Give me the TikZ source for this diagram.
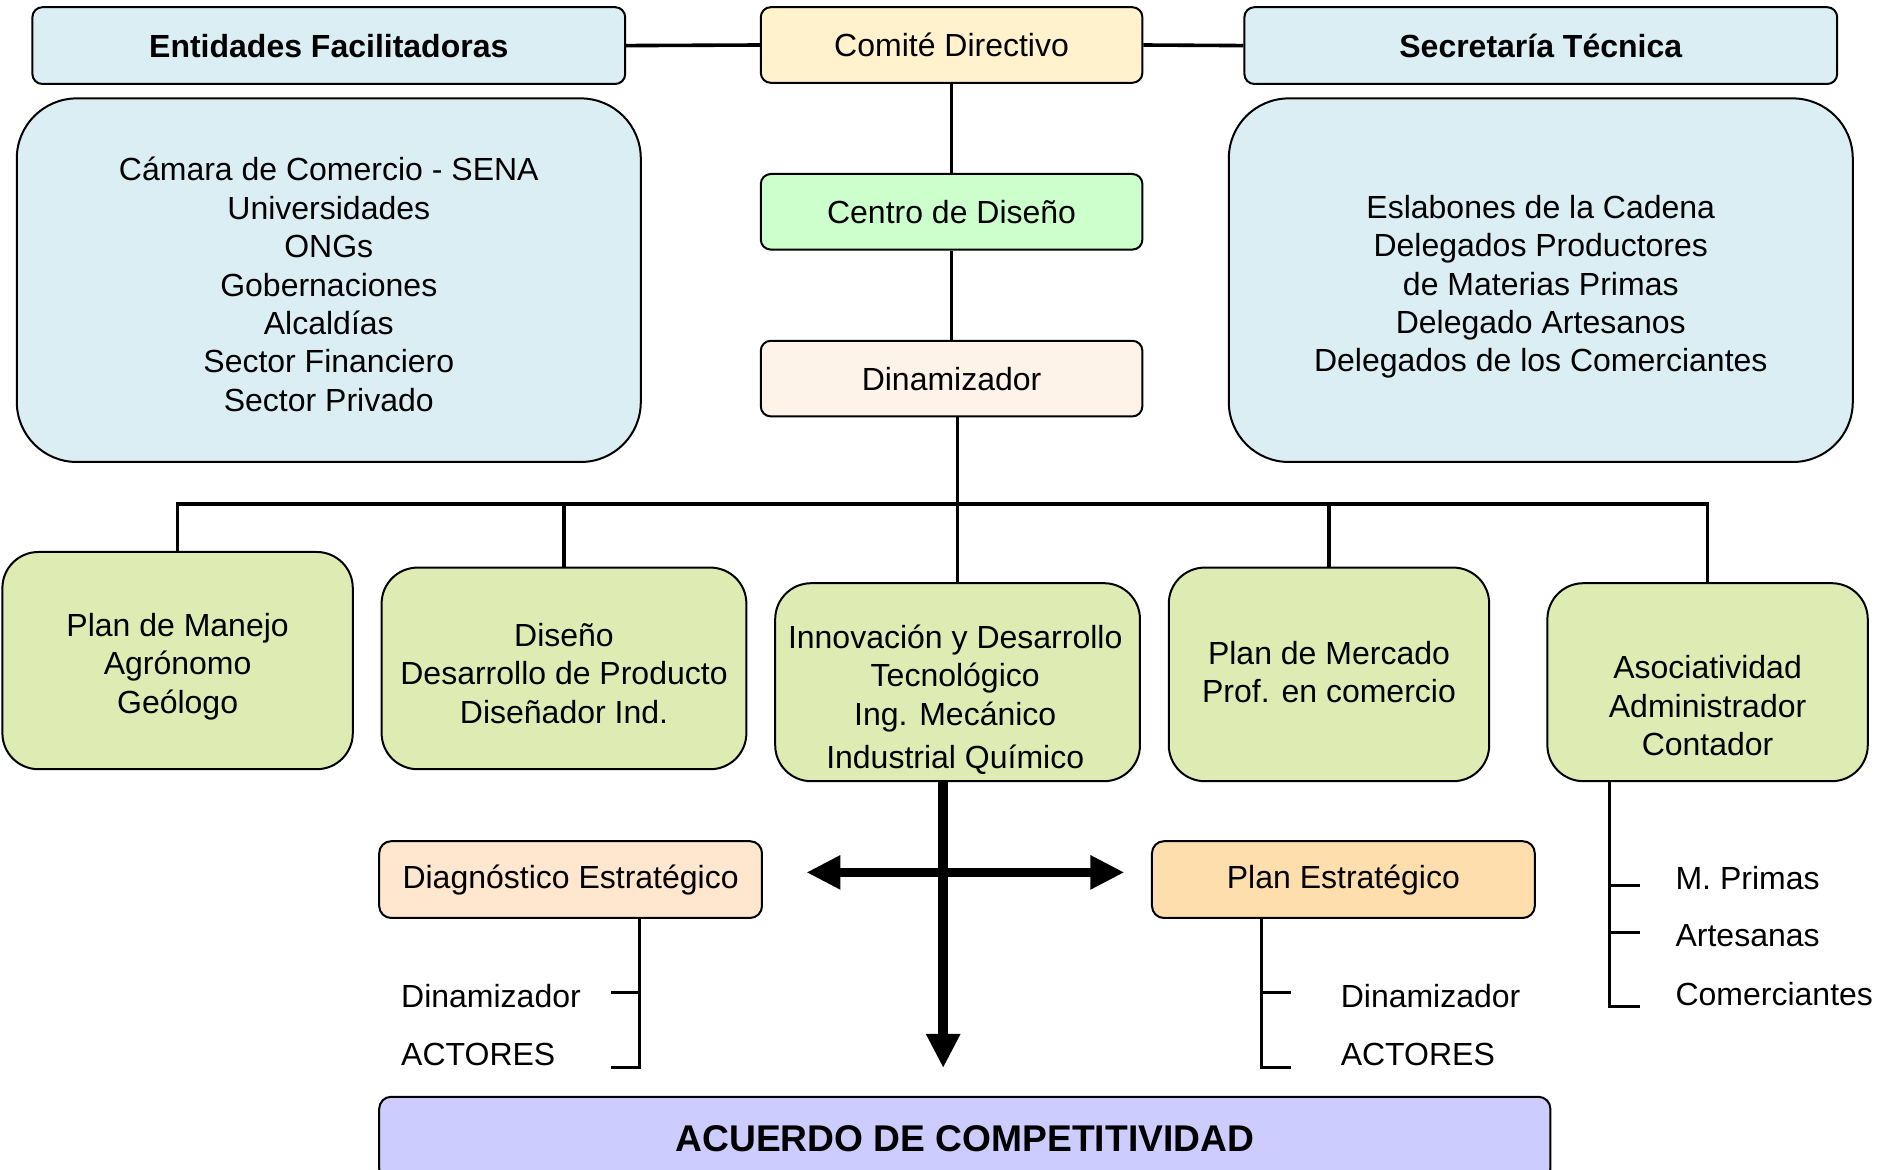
\documentclass[tikz,border=0pt]{standalone}
\usepackage{fontspec}
\setmainfont{Liberation Sans}
\usetikzlibrary{arrows.meta}
\definecolor{cblue}{RGB}{219,238,243}
\definecolor{cyel}{RGB}{255,242,204}
\definecolor{cmint}{RGB}{204,255,204}
\definecolor{cpeach}{RGB}{253,243,232}
\definecolor{cgreen}{RGB}{222,236,180}
\definecolor{cdiag}{RGB}{255,230,206}
\definecolor{cpe}{RGB}{255,222,173}
\definecolor{clav}{RGB}{204,204,255}
\tikzset{
  bx/.style={draw=black, line width=1pt, inner sep=0pt, align=center,
    font=\fontsize{16}{19.2}\selectfont},
  topbox/.style={bx, rounded corners=5pt, minimum width=296.4pt, minimum height=38.4pt, fill=cblue,
    font=\fontsize{16}{19.2}\selectfont\bfseries},
  midbox/.style={bx, rounded corners=5pt, minimum width=190.8pt, minimum height=37.8pt},
  bigbox/.style={bx, rounded corners=30pt, minimum width=312pt, minimum height=181.8pt, fill=cblue},
  gbox/.style={bx, rounded corners=18pt, fill=cgreen},
  txt/.style={inner sep=0pt, align=center, font=\fontsize{16}{19.2}\selectfont},
  lbl/.style={inner sep=0pt, anchor=west, font=\fontsize{16}{19.2}\selectfont},
  conn/.style={line width=1.8pt},
  brk/.style={line width=1.5pt},
  bigarrow/.style={line width=4.8pt, -{Triangle[length=17pt,width=16pt]}},
  dblarrow/.style={line width=4.8pt, {Triangle[length=17pt,width=16pt]}-{Triangle[length=17pt,width=16pt]}},
}
\begin{document}
\begin{tikzpicture}[x=0.6pt,y=-0.6pt]
\useasboundingbox (0,0) rectangle (1564.2,974.2);
% top row
\node[topbox] (ent) at (274,38) {Entidades Facilitadoras};
\node[midbox, fill=cyel] (com) at (793,37.5) {Comité Directivo};
\node[topbox] (sec) at (1284,38) {Secretaría Técnica};
% big boxes
\node[bigbox] (entbig) at (274,233.5) {};
\node[txt] (enttxt) at (274,237) {Cámara de Comercio - SENA\\Universidades\\ONGs\\Gobernaciones\\Alcaldías\\Sector Financiero\\Sector Privado};
\node[bigbox] (secbig) at (1284,233.5) {};
\node[txt] (sectxt) at (1284,239) {Eslabones de la Cadena\\Delegados Productores\\de Materias Primas\\Delegado Artesanos\\Delegados de los Comerciantes};
% middle column
\node[midbox, fill=cmint] (cen) at (793,176.5) {Centro de Diseño};
\node[midbox, fill=cpeach] (din) at (793,315.5) {Dinamizador};
% green row
\node[gbox, minimum width=175.2pt, minimum height=108.6pt] (pm) at (148,550.5) {};
\node[txt] (pmtxt) at (148,555.5) {Plan de Manejo\\Agrónomo\\Geólogo};
\node[gbox, minimum width=182.4pt, minimum height=100.8pt] (dis) at (470,557) {};
\node[txt] (distxt) at (470,561) {Diseño\\Desarrollo de Producto\\Diseñador Ind.};
\node[gbox, minimum width=182.4pt, minimum height=99pt] (inn) at (798,568.5) {};
\node[txt] (inntxt) at (796,583) {Innovación y Desarrollo\\Tecnológico\\Ing. Mecánico\\[2.4pt]Industrial Químico};
\node[gbox, minimum width=160.2pt, minimum height=106.8pt] (mer) at (1107.5,562) {};
\node[txt] (mertxt) at (1107.5,560) {Plan de Mercado\\Prof. en comercio};
\node[gbox, minimum width=160.2pt, minimum height=99pt] (aso) at (1423,568.5) {};
\node[txt] (asotxt) at (1423,588) {Asociatividad\\Administrador\\Contador};
% strategy boxes
\node[midbox, rounded corners=6pt, fill=cdiag, minimum width=191.4pt, minimum height=38.4pt] (diag) at (475.5,733) {Diagnóstico Estratégico};
\node[midbox, rounded corners=6pt, fill=cpe, minimum width=191.4pt, minimum height=38.4pt] (pe) at (1119.5,733) {Plan Estratégico};
\node[bx, rounded corners=6pt, fill=clav, minimum width=585.6pt, minimum height=42pt,
  font=\fontsize{18.6}{22}\selectfont\bfseries] (acu) at (804,949) {ACUERDO DE COMPETITIVIDAD};
% labels
\node[lbl] (d1) at (334,830) {Dinamizador};
\node[lbl] (a1) at (334,879) {ACTORES};
\node[lbl] (d2) at (1117,830) {Dinamizador};
\node[lbl] (a2) at (1117,879) {ACTORES};
\node[lbl] (mp) at (1396,732) {M. Primas};
\node[lbl] (ar) at (1396,780) {Artesanas};
\node[lbl] (co) at (1396,828) {Comerciantes};
% coordinates
\coordinate (busy) at (0,420);
\coordinate (dinx) at (798,0);
\coordinate (arrx) at (786,0);
\coordinate (arrtip) at (786,890);
\coordinate (lt) at (672,727);
\coordinate (rt) at (937,727);
\coordinate (db) at (533,890);
\coordinate (pb) at (1051,890);
\coordinate (ab) at (1341,839);
% connectors
\draw[conn] (ent.east) -- (com.west);
\draw[conn] (com.east) -- (sec.west);
\draw[conn] (com.south) -- (cen.north);
\draw[conn] (cen.south) -- (din.north);
\draw[conn] (din.south -| dinx) -- (inn.north);
\draw[conn] (pm.north) -- (pm.north |- busy) -- (aso.north |- busy) -- (aso.north);
\draw[conn] (dis.north) -- (dis.north |- busy);
\draw[conn] (mer.north) -- (mer.north |- busy);
% thick arrows
\draw[bigarrow] (inn.south -| arrx) -- (arrtip);
\draw[dblarrow] (lt) -- (rt);
% brackets
\draw[brk] (diag.south -| db) -- (db) -- ++(-24,0);
\draw[brk] (db |- d1) ++(0,-3) -- ++(-24,0);
\draw[brk] (pe.south -| pb) -- (pb) -- ++(25,0);
\draw[brk] (pb |- d2) ++(0,-3) -- ++(25,0);
\draw[brk] (aso.south -| ab) -- (ab) -- ++(26,0);
\draw[brk] (ab |- mp) ++(0,6) -- ++(26,0);
\draw[brk] (ab |- ar) ++(0,-3) -- ++(26,0);
\end{tikzpicture}
\end{document}
